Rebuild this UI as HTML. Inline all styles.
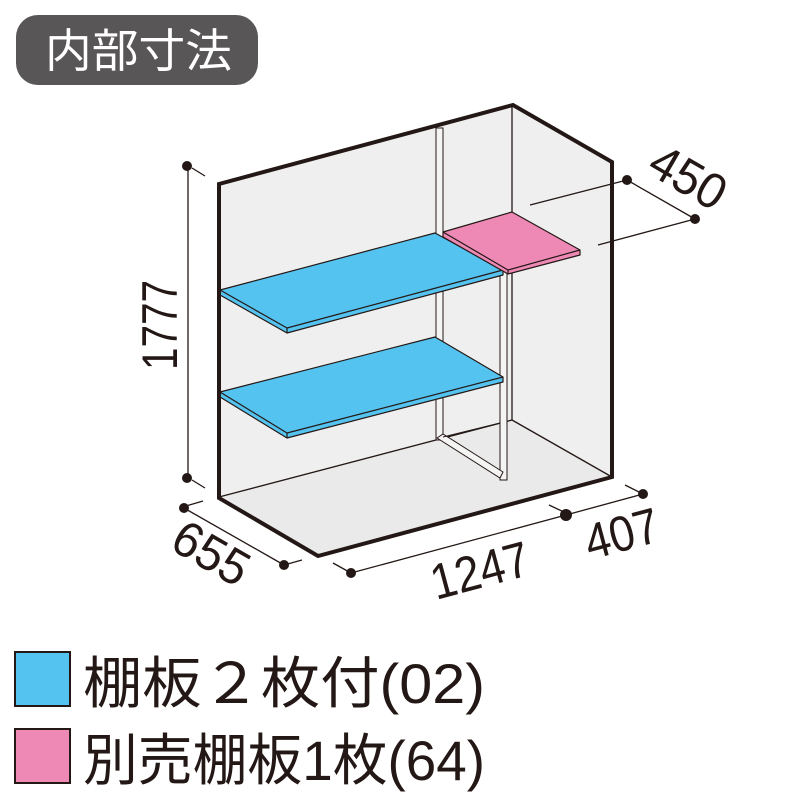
<!DOCTYPE html>
<html><head><meta charset="utf-8"><style>
html,body{margin:0;padding:0;background:#fff;}
svg{display:block}
</style></head><body>
<svg width="800" height="800" viewBox="0 0 800 800" xmlns="http://www.w3.org/2000/svg">
<rect x="16" y="15" width="242" height="70" rx="22" fill="#595657"/>
<text x="45" y="67" font-family="'Noto Sans CJK JP',sans-serif" font-size="46" fill="#fff" textLength="187" lengthAdjust="spacingAndGlyphs">内部寸法</text>

<!-- box walls -->
<polygon points="219,184 513,105 612,162 612,477 318,556 219,498" fill="#efefef"/>
<polygon points="219,498 512,420 612,477 318,556" fill="#eaeaea"/>
<g stroke="#231815" stroke-width="1.3" fill="none">
<line x1="512" y1="105" x2="512" y2="420"/>
<line x1="512" y1="420" x2="612" y2="477"/>
<line x1="219" y1="497" x2="512" y2="420"/>
</g>
<!-- posts -->
<g stroke="#231815" stroke-width="1" fill="#f4f4f4">
<rect x="436" y="128" width="7" height="312"/>
<rect x="500" y="265" width="7" height="215"/>
<polygon points="437,438 443,434 503,472 500,478"/>
<line x1="443" y1="437" x2="500" y2="423"/>
</g>
<!-- shelves -->
<g stroke="#231815" stroke-width="1.2" stroke-linejoin="round">
<polygon points="220,290 435,233 503,270 503,275 287,333 220,295" fill="#55c3f0"/>
<polyline points="220,290 287,328 503,270" fill="none"/>
<line x1="287" y1="328" x2="287" y2="333"/>
<polygon points="220,392 435,337 503,377 503,382 287,438 220,397" fill="#55c3f0"/>
<polyline points="220,392 287,433 503,377" fill="none"/>
<line x1="287" y1="433" x2="287" y2="438"/>
<polygon points="443,232 512,212 580,250 580,255 508,274 443,237" fill="#ee89b5"/>
<polyline points="443,232 508,270 580,250" fill="none"/>
<line x1="508" y1="270" x2="508" y2="274"/>
</g>
<polygon points="219,184 513,105 612,162 612,477 318,556 219,498" fill="none" stroke="#231815" stroke-width="4" stroke-linejoin="miter"/>

<!-- dimensions -->
<g stroke="#231815" stroke-width="1.3">
<line x1="188" y1="166" x2="188" y2="478"/>
<line x1="192" y1="168" x2="205" y2="176"/>
<line x1="192" y1="480" x2="205" y2="488"/>
<line x1="530" y1="205" x2="627" y2="180"/>
<line x1="598" y1="245" x2="695" y2="219"/>
<line x1="627" y1="180" x2="695" y2="219"/>
<line x1="184" y1="508" x2="284" y2="565"/>
<line x1="186" y1="506" x2="203" y2="501"/>
<line x1="284" y1="565" x2="302" y2="560"/>
<line x1="351" y1="573" x2="566" y2="515"/>
<line x1="333" y1="563" x2="351" y2="573"/>
<line x1="566" y1="515" x2="643" y2="494"/>
<line x1="549" y1="505" x2="566" y2="513"/>
<line x1="625" y1="485" x2="643" y2="494"/>
</g>
<g fill="#231815">
<circle cx="187" cy="166" r="5"/><circle cx="187" cy="478" r="5"/>
<circle cx="627" cy="180" r="5"/><circle cx="695" cy="219" r="5"/>
<circle cx="184" cy="508" r="5"/><circle cx="284" cy="565" r="5"/>
<circle cx="351" cy="573" r="5"/><circle cx="566" cy="515" r="6"/>
<circle cx="643" cy="494" r="5"/>
</g>
<g font-family="'Liberation Sans',sans-serif" font-size="50" fill="#231815">
<text transform="translate(177,370) rotate(-90)" textLength="90" lengthAdjust="spacingAndGlyphs">1777</text>
<text transform="translate(645,172) rotate(30)" textLength="80" lengthAdjust="spacingAndGlyphs">450</text>
<text transform="translate(168,548) rotate(30)" textLength="80" lengthAdjust="spacingAndGlyphs">655</text>
<text transform="translate(436,600) rotate(-15)" textLength="100" lengthAdjust="spacingAndGlyphs">1247</text>
<text transform="translate(590,560) rotate(-15)" textLength="75" lengthAdjust="spacingAndGlyphs">407</text>
</g>

<!-- legend -->
<rect x="15" y="652" width="55" height="54" fill="#55c3f0" stroke="#231815" stroke-width="2"/>
<rect x="15" y="729" width="55" height="54" fill="#ee89b5" stroke="#231815" stroke-width="2"/>
<g font-family="'Liberation Sans','Noto Sans CJK JP',sans-serif" font-size="56" fill="#231815">
<text x="83" y="703" textLength="402" lengthAdjust="spacingAndGlyphs">棚板２枚付(02)</text>
<text x="83" y="780" textLength="402" lengthAdjust="spacingAndGlyphs">別売棚板1枚(64)</text>
</g>
</svg>
</body></html>
